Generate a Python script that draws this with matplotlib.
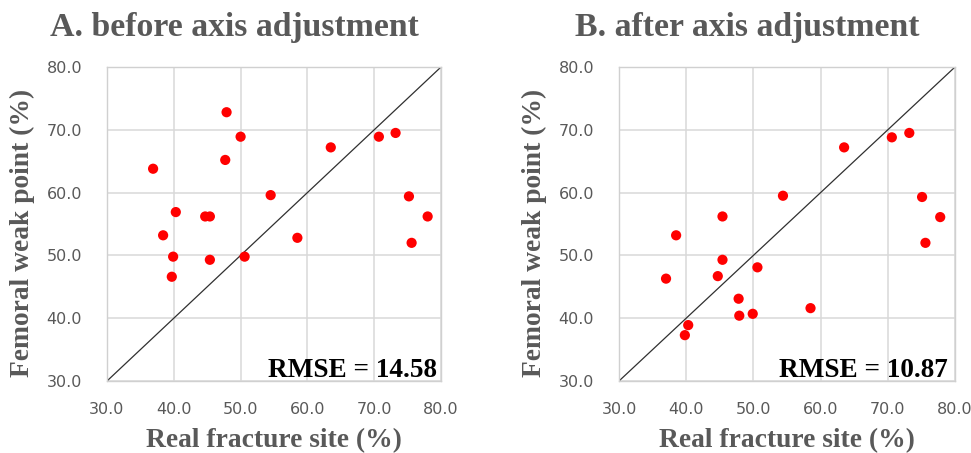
import matplotlib
matplotlib.use("Agg")
import matplotlib.pyplot as plt
import numpy as np

# Panel A: before axis adjustment
real_a = [36.9, 47.9, 50.0, 47.7, 63.5, 70.7, 73.2, 54.5, 40.3, 44.7, 45.4, 38.4,
          58.5, 75.2, 78.0, 75.6, 39.9, 45.4, 50.6, 39.7]
weak_a = [63.8, 72.8, 68.9, 65.2, 67.2, 68.9, 69.5, 59.6, 56.9, 56.2, 56.2, 53.2,
          52.8, 59.4, 56.2, 52.0, 49.8, 49.3, 49.8, 46.6]

# Panel B: after axis adjustment
real_b = [38.5, 45.4, 37.0, 45.4, 44.7, 50.6, 47.8, 47.9, 49.9, 58.5, 40.3, 39.8,
          54.4, 63.5, 70.6, 73.2, 75.1, 77.8, 75.6]
weak_b = [53.2, 56.2, 46.3, 49.3, 46.7, 48.1, 43.1, 40.4, 40.7, 41.6, 38.9, 37.3,
          59.5, 67.2, 68.8, 69.5, 59.3, 56.1, 52.0]

titles = ["A. before axis adjustment", "B. after axis adjustment"]
rmse_labels = ["RMSE = 14.58", "RMSE = 10.87"]
ticks = [30, 40, 50, 60, 70, 80]
tick_labels = ["30.0", "40.0", "50.0", "60.0", "70.0", "80.0"]
xlabel = "Real fracture site (%)"
ylabel = "Femoral weak point (%)"

W, H = 971, 453
fig = plt.figure(figsize=(W / 100, H / 100), dpi=100)

gray = "#595959"
grid = "#d9d9d9"
serif = "Liberation Serif"

panels = [
    (107, 441, 67, 381, real_a, weak_a, 234, 22.5, 0.988),
    (619, 955, 67, 381, real_b, weak_b, 747, 534.5, 0.979),
]

for i, (l, r, t, b, xs, ys, tcx, ylx, rx) in enumerate(panels):
    ax = fig.add_axes([l / W, 1 - b / H, (r - l) / W, (b - t) / H])
    ax.set_xlim(30, 80)
    ax.set_ylim(30, 80)
    ax.set_xticks(ticks)
    ax.set_yticks(ticks)
    ax.set_xticklabels(tick_labels)
    ax.set_yticklabels(tick_labels)
    ax.tick_params(length=0, labelsize=11.5, labelcolor=gray)
    ax.tick_params(axis="x", pad=15)
    ax.tick_params(axis="y", pad=18)
    ax.grid(True, color=grid, linewidth=1.1, zorder=0)
    for s in ax.spines.values():
        s.set_color("#d0d0d0")
        s.set_linewidth(1.0)
    ax.set_axisbelow(True)
    ax.plot([30, 80], [30, 80], color="#303030", linewidth=0.9, zorder=2)
    ax.scatter(xs, ys, s=54, color="#ff0000", edgecolors="none", zorder=3)
    ax.text(rx, 0.013, rmse_labels[i], transform=ax.transAxes, ha="right", va="baseline",
            fontsize=19.6, fontweight="bold", family=serif, color="black")
    # axis titles
    fig.text((l + r) / 2 / W, 1 - 447 / H, xlabel, ha="center", va="baseline",
             fontsize=19.8, fontweight="bold", family=serif, color=gray)
    fig.text(ylx / W, 1 - 233 / H, ylabel, ha="center", va="center", rotation=90,
             fontsize=19.8, fontweight="bold", family=serif, color=gray)
    fig.text(tcx / W, 1 - 36 / H, titles[i], ha="center", va="baseline",
             fontsize=24.3, fontweight="bold", family=serif, color=gray)

fig.savefig("out.png", dpi=100)
